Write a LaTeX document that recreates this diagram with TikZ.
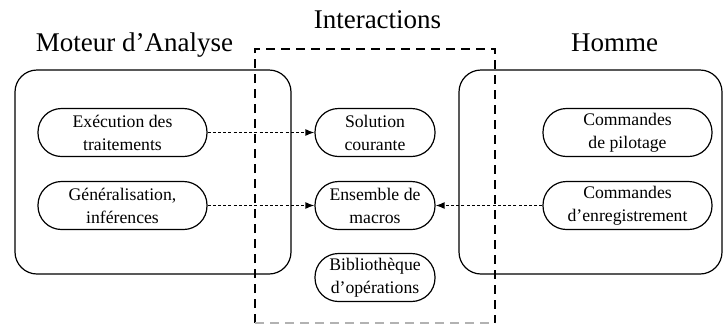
\documentclass[tikz,border=0pt]{standalone}
\usepackage{fontspec}
\setmainfont{Liberation Serif}
\usetikzlibrary{arrows.meta}
\begin{document}
\begin{tikzpicture}[x=1pt,y=-1pt,
  line width=1.2pt,
  title/.style={anchor=base,inner sep=0pt,font=\fontsize{27}{32}\selectfont},
  zone/.style={draw,rounded corners=22pt,inner sep=0pt},
  pill/.style={draw,rounded corners=23.5pt,inner sep=0pt,align=center,
    minimum height=48pt,font=\fontsize{17.7}{23}\selectfont},
  wide/.style={pill,minimum width=169pt},
  narrow/.style={pill,minimum width=120pt},
  flow/.style={dash pattern=on 3pt off 2.2pt,line width=1.3pt,
    -{Latex[length=9pt,width=7pt]}},
  frame/.style={dash pattern=on 9pt off 6pt,line width=1.2pt}]
\useasboundingbox (0,0) rectangle (723,325);

% group containers
\node[zone,minimum width=276pt,minimum height=204pt] (moteur) at (153,172) {};
\node[zone,minimum width=263pt,minimum height=204pt] (homme) at (590.5,172) {};

% interaction zone (dashed, bottom edge drawn in grey)
\coordinate (ibl) at (255,323);
\coordinate (itl) at (255,49);
\coordinate (itr) at (495,49);
\coordinate (ibr) at (495,323);
\draw[frame] (ibl) -- (itl) -- (itr) -- (ibr);
\draw[frame,draw=black!30] (ibl) -- (ibr);

% titles
\node[title] (tmoteur) at (134.5,51) {Moteur d’Analyse};
\node[title] (tinter) at (377.5,28) {Interactions};
\node[title] (thomme) at (614.5,51) {Homme};

% engine side
\node[wide] (exec) at (122.5,132.5) {Exécution des\\traitements};
\node[wide] (gen) at (122.5,205.5) {Généralisation,\\inférences};

% shared objects
\node[narrow] (sol) at (375,132.5) {Solution\\courante};
\node[narrow] (ens) at (375,205.5) {Ensemble de\\macros};
\node[narrow] (bib) at (375,277.5) {Bibliothèque\\d’opérations};

% human side
\node[wide] (pil) at (627.5,132.5) {Commandes\\de pilotage};
\node[wide] (enr) at (627.5,205.5) {Commandes\\d’enregistrement};

% exchanges
\draw[flow] (exec) -- (sol);
\draw[flow] (gen) -- (ens);
\draw[flow] (enr) -- (ens);
\end{tikzpicture}
\end{document}
